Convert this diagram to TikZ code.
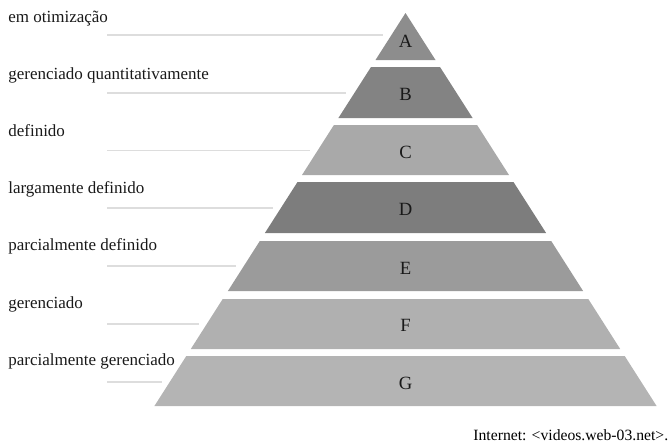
\documentclass[tikz,border=0pt]{standalone}
\usepackage{fontspec}
\setmainfont{Liberation Serif}

\definecolor{tierA}{HTML}{8D8D8D}
\definecolor{tierB}{HTML}{838383}
\definecolor{tierC}{HTML}{A9A9A9}
\definecolor{tierD}{HTML}{7D7D7D}
\definecolor{tierE}{HTML}{9B9B9B}
\definecolor{tierF}{HTML}{B0B0B0}
\definecolor{tierG}{HTML}{B4B4B4}
\definecolor{leadgray}{HTML}{DDDDDD}

\tikzset{
    tier/.style={draw=none},
    tierletter/.style={font=\fontsize{11.2}{13}\selectfont, text=black!90},
    levellabel/.style={anchor=base west, inner sep=0pt, font=\fontsize{10.2}{12}\selectfont, text=black!90},
    leader/.style={draw=leadgray, line width=0.8pt},
    sourcenote/.style={anchor=base east, inner sep=0pt, font=\fontsize{9.4}{11}\selectfont}
}

\begin{document}
\begin{tikzpicture}[x=0.6pt, y=-0.6pt]
    \useasboundingbox (0,0) rectangle (669,443);

    % pyramid bands
    \fill[tier, tierA] (405.5,13) -- (435.5,60) -- (375.5,60) -- cycle;
    \fill[tier, tierB] (371,67) -- (440,67) -- (472.6,118) -- (338.4,118) -- cycle;
    \fill[tier, tierC] (333.9,125) -- (477.1,125) -- (509,175) -- (302,175) -- cycle;
    \fill[tier, tierD] (297.5,182) -- (513.5,182) -- (546.1,233) -- (264.9,233) -- cycle;
    \fill[tier, tierE] (259.8,241) -- (551.2,241) -- (583.1,291) -- (227.9,291) -- cycle;
    \fill[tier, tierF] (222.7,299) -- (588.3,299) -- (620.2,349) -- (190.8,349) -- cycle;
    \fill[tier, tierG] (186.3,356) -- (624.7,356) -- (656.6,406) -- (154.4,406) -- cycle;

    % letters
    \node[tierletter] (tA) at (405.5,41) {A};
    \node[tierletter] (tB) at (405.5,94) {B};
    \node[tierletter] (tC) at (405.5,152.5) {C};
    \node[tierletter] (tD) at (405.5,209) {D};
    \node[tierletter] (tE) at (405.5,268) {E};
    \node[tierletter] (tF) at (405.5,325) {F};
    \node[tierletter] (tG) at (405.5,383.5) {G};

    % level names
    \node[levellabel] (lvA) at (8,22) {em otimização};
    \node[levellabel] (lvB) at (8,79.2) {gerenciado quantitativamente};
    \node[levellabel] (lvC) at (8,136.4) {definido};
    \node[levellabel] (lvD) at (8,193.6) {largamente definido};
    \node[levellabel] (lvE) at (8,250.8) {parcialmente definido};
    \node[levellabel] (lvF) at (8,308) {gerenciado};
    \node[levellabel] (lvG) at (8,365.2) {parcialmente gerenciado};

    % leader lines
    \coordinate (ldA) at (107,35);    \coordinate (edA) at (383,35);
    \coordinate (ldB) at (107,93);    \coordinate (edB) at (346,93);
    \coordinate (ldC) at (107,150.7); \coordinate (edC) at (310,150.7);
    \coordinate (ldD) at (107,208);   \coordinate (edD) at (273,208);
    \coordinate (ldE) at (107,266);   \coordinate (edE) at (236,266);
    \coordinate (ldF) at (107,324);   \coordinate (edF) at (199,324);
    \coordinate (ldG) at (107,382);   \coordinate (edG) at (162,382);
    \draw[leader] (ldA) -- (edA);
    \draw[leader] (ldB) -- (edB);
    \draw[leader] (ldC) -- (edC);
    \draw[leader] (ldD) -- (edD);
    \draw[leader] (ldE) -- (edE);
    \draw[leader] (ldF) -- (edF);
    \draw[leader] (ldG) -- (edG);

    \node[sourcenote] (src) at (668.5,440) {Internet: <videos.web-03.net>.};
\end{tikzpicture}
\end{document}
